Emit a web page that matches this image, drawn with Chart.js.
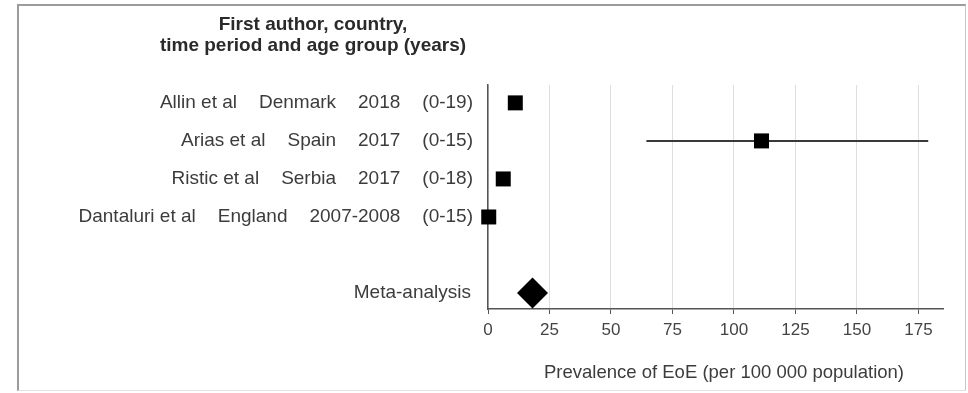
<!DOCTYPE html>
<html>
<head>
<meta charset="utf-8">
<script src="https://cdn.jsdelivr.net/npm/chart.js@4/dist/chart.umd.min.js"></script>
<style>
  html, body { margin: 0; padding: 0; background: #fff; }
  #wrap { position: relative; width: 968px; height: 393px; }
  #frame {
    position: absolute; left: 17px; top: 4px; width: 946px; height: 384px;
    border-top: 2px solid #9c9c9c; border-left: 2px solid #9c9c9c;
    border-right: 1px solid #c8c8c8; border-bottom: 1px solid #e2e2e2;
    pointer-events: none;
  }
</style>
</head>
<body>
<div id="wrap">
  <canvas id="chart" width="968" height="393"></canvas>
  <div id="frame"></div>
</div>
<script>
// Studies, top to bottom
const authors   = ['Allin et al', 'Arias et al', 'Ristic et al', 'Dantaluri et al'];
const countries = ['Denmark', 'Spain', 'Serbia', 'England'];
const periods   = ['2018', '2017', '2017', '2007-2008'];
const ageGroups = ['(0-19)', '(0-15)', '(0-18)', '(0-15)'];

// Prevalence per 100 000 and the visible confidence interval
const estimates = [11.1, 111.2, 6.2, 0.3];
const ciLower   = [null, 64.4, null, null];
const ciUpper   = [null, 179, null, null];

// Pooled estimate
const metaLabel    = 'Meta-analysis';
const metaEstimate = 18.1;
const metaRow      = 5;

const headerLines = ['First author, country,', 'time period and age group (years)'];
const xTicks      = [0, 25, 50, 75, 100, 125, 150, 175];
const xTitle      = 'Prevalence of EoE (per 100 000 population)';

const textColor = '#3c3c3c';
const fontFamily = '"Liberation Sans", Arial, sans-serif';

const studyPoints = estimates.map((v, i) => ({ x: v, y: i }));
const ciDatasets = [];
estimates.forEach((v, i) => {
  if (ciLower[i] != null && ciUpper[i] != null) {
    ciDatasets.push({
      type: 'line',
      data: [{ x: ciLower[i], y: i }, { x: ciUpper[i], y: i }],
      borderColor: '#3a3a3a',
      borderWidth: 2,
      pointRadius: 0,
      clip: false,
      order: 2
    });
  }
});

// Row labels on the left, the column header above them and the axis title
const labelsPlugin = {
  id: 'rowLabels',
  afterDraw(chart) {
    const ctx = chart.ctx;
    const y = chart.scales.y;
    const rightEdge = 473;
    const gap = 22;
    ctx.save();
    ctx.fillStyle = textColor;
    ctx.font = '19px ' + fontFamily;
    ctx.textBaseline = 'middle';
    ctx.textAlign = 'right';
    authors.forEach((a, i) => {
      const py = y.getPixelForValue(i);
      let x = rightEdge;
      [ageGroups[i], periods[i], countries[i], a].forEach(t => {
        ctx.fillText(t, x, py);
        x -= ctx.measureText(t).width + gap;
      });
    });
    ctx.fillText(metaLabel, 471, y.getPixelForValue(metaRow));

    ctx.textAlign = 'center';
    ctx.font = 'bold 19px ' + fontFamily;
    ctx.fillStyle = '#2a2a2a';
    ctx.fillText(headerLines[0], 313, 25);
    ctx.fillText(headerLines[1], 313, 46);

    ctx.font = '18.5px ' + fontFamily;
    ctx.fillStyle = textColor;
    ctx.fillText(xTitle, 724, 373);
    ctx.restore();
  }
};

new Chart(document.getElementById('chart'), {
  type: 'scatter',
  data: {
    datasets: [
      ...ciDatasets,
      {
        data: studyPoints,
        pointStyle: 'rect',
        pointRadius: 10.6,
        backgroundColor: '#000',
        borderColor: '#000',
        borderWidth: 0,
        clip: false,
        order: 1
      },
      {
        data: [{ x: metaEstimate, y: metaRow }],
        pointStyle: 'rectRot',
        pointRadius: 15.5,
        backgroundColor: '#000',
        borderColor: '#000',
        borderWidth: 0,
        clip: false,
        order: 1
      }
    ]
  },
  options: {
    responsive: false,
    animation: false,
    events: [],
    layout: { padding: { left: 0, right: 25, top: 85, bottom: 0 } },
    plugins: { legend: { display: false }, tooltip: { enabled: false } },
    scales: {
      x: {
        type: 'linear',
        min: 0,
        max: 185,
        afterBuildTicks: s => { s.ticks = xTicks.map(v => ({ value: v })); },
        afterFit: s => { s.height = 84; },
        grid: {
          color: '#dedede',
          lineWidth: 1,
          tickColor: '#555',
          tickLength: 5
        },
        border: { color: '#555', width: 1.5 },
        ticks: {
          color: '#444',
          font: { family: fontFamily, size: 17 },
          padding: 6,
          maxRotation: 0
        }
      },
      y: {
        type: 'linear',
        reverse: true,
        min: -0.47,
        max: 5.42,
        afterFit: s => { s.width = 488; },
        grid: { display: false },
        border: { color: '#555', width: 1.5 },
        ticks: { display: false }
      }
    }
  },
  plugins: [labelsPlugin]
});
</script>
</body>
</html>
